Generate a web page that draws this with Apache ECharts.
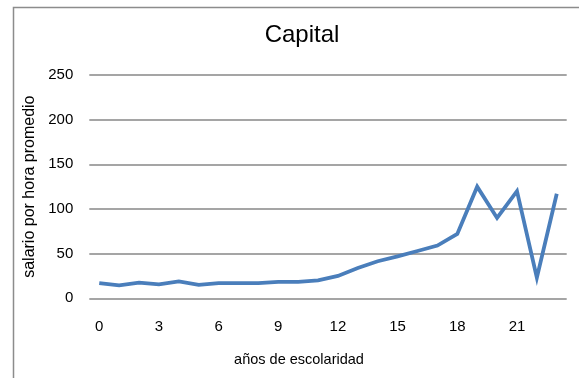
<!DOCTYPE html>
<html>
<head>
<meta charset="utf-8">
<script src="https://cdn.jsdelivr.net/npm/echarts@6/dist/echarts.min.js"></script>
<style>
  html, body { margin: 0; padding: 0; background: #ffffff; }
  #chart { width: 579px; height: 378px; }
</style>
</head>
<body>
<div id="chart"></div>
<script>
// Years of schooling (0..23) and mean hourly wage in the capital
const years = ['0','1','2','3','4','5','6','7','8','9','10','11','12','13','14','15','16','17','18','19','20','21','22','23'];
const salario = [17, 14.5, 17.5, 15.5, 19, 15, 17, 17, 17, 18.5, 18.5, 20, 25, 34, 41.5, 47, 53, 59, 72, 125, 90, 120, 23, 117];
const yTicks = [0, 50, 100, 150, 200, 250];

const chart = echarts.init(document.getElementById('chart'), null, { renderer: 'canvas' });
const FONT = 'Liberation Sans, Arial, sans-serif';

chart.setOption({
  animation: false,
  backgroundColor: '#ffffff',
  title: {
    text: 'Capital',
    left: 297,
    top: 18,
    textAlign: 'center',
    textStyle: { fontFamily: FONT, fontSize: 24, fontWeight: 'normal', color: '#000000' }
  },
  graphic: [{
    // chart frame: top and left edges
    type: 'polyline',
    shape: { points: [[13.5, 400], [13.5, 7.5], [600, 7.5]] },
    style: { stroke: '#8c8c8c', lineWidth: 1.5, fill: null },
    silent: true
  }],
  grid: { left: 89.3, right: 12.3, top: 75, bottom: 79.7 },
  xAxis: {
    type: 'category',
    data: years,
    boundaryGap: true,
    name: 'años de escolaridad',
    nameLocation: 'middle',
    nameGap: 54,
    nameTextStyle: { fontFamily: FONT, fontSize: 14.5, color: '#000000', padding: [0, 58, 0, 0] },
    axisLine: { show: false },
    axisTick: { show: false },
    axisLabel: { interval: 2, margin: 21, fontFamily: FONT, fontSize: 15, color: '#000000' },
    splitLine: { show: false }
  },
  yAxis: {
    type: 'value',
    min: yTicks[0],
    max: yTicks[yTicks.length - 1],
    interval: 50,
    name: 'salario por hora promedio',
    nameLocation: 'middle',
    nameGap: 44,
    nameTextStyle: { fontFamily: FONT, fontSize: 16, color: '#000000' },
    axisLine: { show: false },
    axisTick: { show: false },
    axisLabel: { margin: 16, fontFamily: FONT, fontSize: 15, color: '#000000' },
    splitLine: { show: true, lineStyle: { color: '#878787', width: 1.5 } }
  },
  series: [{
    type: 'line',
    data: salario,
    showSymbol: false,
    symbol: 'none',
    lineStyle: { color: '#4a7ebb', width: 3.8, join: 'miter' },
    itemStyle: { color: '#4a7ebb' }
  }]
});
</script>
</body>
</html>
